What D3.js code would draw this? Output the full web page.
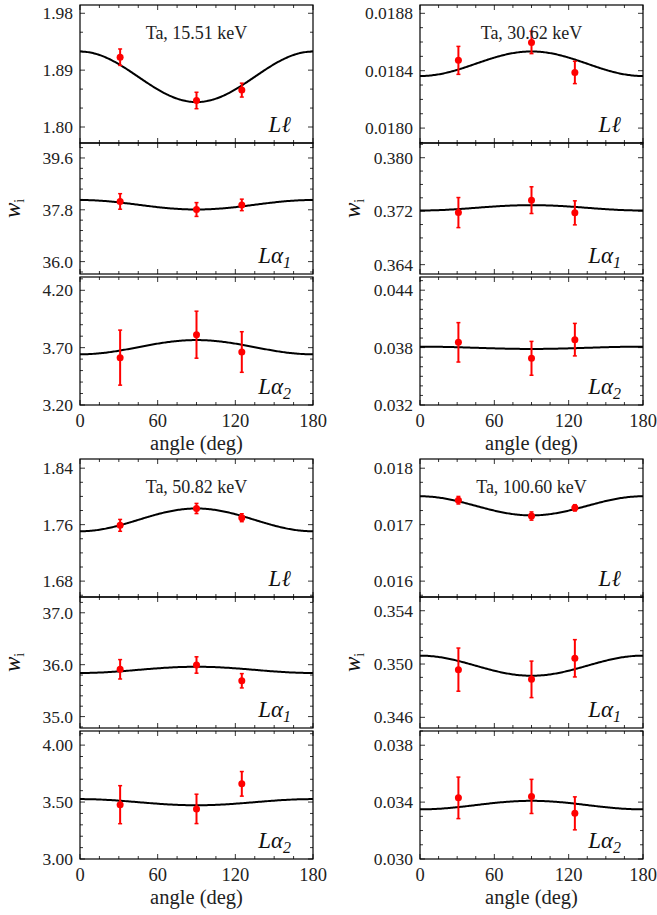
<!DOCTYPE html>
<html><head><meta charset="utf-8">
<script src="https://cdn.jsdelivr.net/npm/d3@7"></script>
<style>body{margin:0;background:#fff} svg text{font-family:"Liberation Serif","Times New Roman",serif;}</style></head>
<body><svg id="c" width="657" height="915"></svg>
<script>
const angles = [31, 90, 125];
const xTicks = [0, 60, 120, 180];
const energyLabels = ["Ta, 15.51 keV", "Ta, 30.62 keV", "Ta, 50.82 keV", "Ta, 100.60 keV"];
const lineNames = [["L", "ℓ", ""], ["L", "α", "1"], ["L", "α", "2"]];

// measured w_i (rows: Lℓ, Lα1, Lα2; columns: angles)
const w15 = [[1.9105, 1.842, 1.8584], [38.09, 37.81, 37.97], [3.613, 3.813, 3.662]];
const w30 = [[0.018472, 0.018597, 0.018388], [0.37179, 0.37365, 0.37175], [0.03855, 0.03688, 0.03883]];
const w50 = [[1.759, 1.7829, 1.7698], [35.911, 35.994, 35.69], [3.477, 3.44, 3.66]];
const w100 = [[0.017433, 0.017153, 0.017298], [0.34958, 0.34885, 0.35043], [0.0343, 0.0344, 0.03321]];

// error bars (half-length)
const err15 = [[0.013, 0.013, 0.011], [0.27, 0.24, 0.2], [0.24, 0.205, 0.177]];
const err30 = [[0.0000975, 0.000078, 0.000078], [0.00225, 0.002, 0.0018], [0.00206, 0.00177, 0.0017]];
const err50 = [[0.0084, 0.0072, 0.0056], [0.187, 0.158, 0.138], [0.167, 0.129, 0.108]];
const err100 = [[0.000067, 0.000073, 0.000056], [0.00162, 0.00137, 0.0014], [0.00146, 0.0012, 0.00116]];

// fitted curve: value at 0° and at 90°
const fit15 = [[1.9194, 1.8395], [38.14, 37.81], [3.642, 3.766]];
const fit30 = [[0.018363, 0.018534], [0.3721, 0.3729], [0.0381, 0.03786]];
const fit50 = [[1.7506, 1.7829], [35.84, 35.96], [3.526, 3.472]];
const fit100 = [[0.017503, 0.017164], [0.35063, 0.34912], [0.03349, 0.03409]];

// y-axis ranges, labelled ticks, minor step
const dom15 = [[1.7747, 1.9931], [35.57, 40.12], [3.20, 4.316]];
const dom30 = [[0.017896, 0.018858], [0.3626, 0.3822], [0.032, 0.04538]];
const dom50 = [[1.6575, 1.853], [34.78, 37.304], [3.00, 4.124]];
const dom100 = [[0.015719, 0.018163], [0.3452, 0.35503], [0.030, 0.039]];
const ticks15 = [[1.80, 1.89, 1.98], [36.0, 37.8, 39.6], [3.20, 3.70, 4.20]];
const ticks30 = [[0.0180, 0.0184, 0.0188], [0.364, 0.372, 0.380], [0.032, 0.038, 0.044]];
const ticks50 = [[1.68, 1.76, 1.84], [35.0, 36.0, 37.0], [3.00, 3.50, 4.00]];
const ticks100 = [[0.016, 0.017, 0.018], [0.346, 0.350, 0.354], [0.030, 0.034, 0.038]];
const minor15 = [0.03, 0.36, 0.1];
const minor30 = [0.0001, 0.002, 0.001];
const minor50 = [0.02, 0.2, 0.1];
const minor100 = [0.00025, 0.001, 0.001];
const fmt15 = [".2f", ".1f", ".2f"];
const fmt30 = [".4f", ".3f", ".3f"];
const fmt50 = [".2f", ".1f", ".2f"];
const fmt100 = [".3f", ".3f", ".3f"];

const groups = [
  {w: w15, err: err15, fit: fit15, dom: dom15, ticks: ticks15, minor: minor15, fmt: fmt15},
  {w: w30, err: err30, fit: fit30, dom: dom30, ticks: ticks30, minor: minor30, fmt: fmt30},
  {w: w50, err: err50, fit: fit50, dom: dom50, ticks: ticks50, minor: minor50, fmt: fmt50},
  {w: w100, err: err100, fit: fit100, dom: dom100, ticks: ticks100, minor: minor100, fmt: fmt100}
];

const colX = [[80, 313], [420, 643]];
const rowY = [[5, 143], [143, 274], [277, 405]];
const groupOff = 454;
const svg = d3.select("#c");

groups.forEach((g, gi) => {
  const col = gi % 2, grp = Math.floor(gi / 2);
  const [xl, xr] = colX[col];
  const x = d3.scaleLinear().domain([0, 180]).range([xl, xr]);
  const off = grp * groupOff;
  const xc = (xl + xr) / 2;

  for (let p = 0; p < 3; p++) {
    const y0 = rowY[p][0] + off, y1 = rowY[p][1] + off;
    const y = d3.scaleLinear().domain(g.dom[p]).range([y1, y0]);
    const gp = svg.append("g");
    const clipId = `clip${gi}_${p}`;
    gp.append("clipPath").attr("id", clipId).append("rect")
      .attr("x", xl).attr("y", y0).attr("width", xr - xl).attr("height", y1 - y0);

    const [lo, hi] = g.dom[p];
    const step = g.minor[p];
    const start = Math.ceil(lo / step - 1e-6) * step;
    const tg = gp.append("g").attr("stroke", "#000").attr("stroke-width", 0.8);
    for (let v = start; v <= hi + 1e-12; v += step) {
      const isMajor = g.ticks[p].some(t => Math.abs(t - v) < step * 0.01);
      const len = isMajor ? 5 : 3;
      const yy = y(v);
      tg.append("line").attr("x1", xl).attr("x2", xl + len).attr("y1", yy).attr("y2", yy);
      tg.append("line").attr("x1", xr).attr("x2", xr - len).attr("y1", yy).attr("y2", yy);
    }
    for (let a = 0; a <= 180; a += 15) {
      const len = (a % 60 === 0) ? 5 : 3;
      const xx = x(a);
      tg.append("line").attr("x1", xx).attr("x2", xx).attr("y1", y1).attr("y2", y1 - len);
      tg.append("line").attr("x1", xx).attr("x2", xx).attr("y1", y0).attr("y2", y0 + len);
    }

    const f = d3.format(g.fmt[p]);
    gp.selectAll("text.yt").data(g.ticks[p]).enter().append("text")
      .attr("x", xl - 7).attr("y", d => y(d)).attr("dy", "0.35em")
      .attr("text-anchor", "end").attr("font-size", 17.5)
      .attr("fill", "#222").text(d => f(d));

    const [c0, c90] = g.fit[p];
    const curvePts = d3.range(0, 181, 1).map(a => {
      const r = a * Math.PI / 180;
      return [a, c0 * Math.cos(r) ** 2 + c90 * Math.sin(r) ** 2];
    });
    gp.append("path").datum(curvePts).attr("clip-path", `url(#${clipId})`)
      .attr("fill", "none").attr("stroke", "#000").attr("stroke-width", 2)
      .attr("d", d3.line().x(d => x(d[0])).y(d => y(d[1])));

    const pts = angles.map((a, i) => ({a, v: g.w[p][i], e: g.err[p][i]}));
    const pg = gp.append("g").attr("stroke", "#f00").attr("fill", "#f00");
    pts.forEach(d => {
      const cx = x(d.a);
      pg.append("line").attr("x1", cx).attr("x2", cx).attr("y1", y(d.v - d.e)).attr("y2", y(d.v + d.e)).attr("stroke-width", 2);
      pg.append("line").attr("x1", cx - 2).attr("x2", cx + 2).attr("y1", y(d.v - d.e)).attr("y2", y(d.v - d.e)).attr("stroke-width", 1.5);
      pg.append("line").attr("x1", cx - 2).attr("x2", cx + 2).attr("y1", y(d.v + d.e)).attr("y2", y(d.v + d.e)).attr("stroke-width", 1.5);
      pg.append("circle").attr("cx", cx).attr("cy", y(d.v)).attr("r", 3.5).attr("stroke", "none");
    });

    gp.append("rect").attr("x", xl).attr("y", y0).attr("width", xr - xl).attr("height", y1 - y0)
      .attr("fill", "none").attr("stroke", "#000").attr("stroke-width", 1.2);

    const nm = lineNames[p];
    const t = gp.append("text").attr("x", xr - 22).attr("y", y1 - 11)
      .attr("text-anchor", "end").attr("font-style", "italic")
      .attr("font-size", 23).attr("fill", "#111");
    t.append("tspan").text(nm[0]);
    t.append("tspan").text(nm[1]);
    if (nm[2]) t.append("tspan").attr("font-size", 16).attr("dy", 5).text(nm[2]);

    if (p === 0) {
      gp.append("text").attr("x", xc).attr("y", y0 + 34).attr("text-anchor", "middle")
        .attr("font-size", 18).attr("fill", "#222").text(energyLabels[gi]);
    }
    if (p === 1) {
      const yl = gp.append("text").attr("transform", `translate(${xl - 60},${(y0 + y1) / 2}) rotate(-90)`)
        .attr("text-anchor", "middle").attr("font-size", 23).attr("fill", "#111");
      yl.append("tspan").attr("font-style", "italic").text("w");
      yl.append("tspan").attr("font-size", 14).attr("dy", 4).text("i");
    }
    if (p === 2) {
      gp.selectAll("text.xt").data(xTicks).enter().append("text")
        .attr("x", d => x(d)).attr("y", y1 + 22).attr("text-anchor", "middle")
        .attr("font-size", 18.5).attr("fill", "#222").text(d => d);
      gp.append("text").attr("x", xc).attr("y", y1 + 45).attr("text-anchor", "middle")
        .attr("font-size", 20.5).attr("fill", "#222").text("angle (deg)");
    }
  }
});
</script>
</body></html>
